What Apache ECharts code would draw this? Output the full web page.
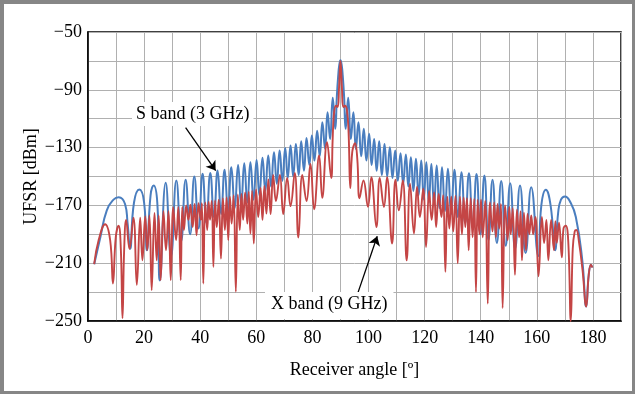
<!DOCTYPE html>
<html>
<head>
<meta charset="utf-8">
<script src="https://cdn.jsdelivr.net/npm/echarts@6/dist/echarts.min.js"></script>
<style>
  html, body { margin: 0; padding: 0; background: #fff; }
  #chart {
    width: 628px; height: 387px; background: #fff;
    border-style: solid; border-color: #868686;
    border-width: 4px 3px 3px 4px;
  }
</style>
</head>
<body>
<div id="chart"></div>
<script>
// axis ticks
const angleTicks = [0, 20, 40, 60, 80, 100, 120, 140, 160, 180]
const levelTicks = [-250, -210, -170, -130, -90, -50]

// S band (3 GHz) : [receiver angle, UFSR dBm] (lobe peaks / nulls)
const sBand = [
  [2.2,-210.7],[4.4,-192],[6.7,-173.4],[9.1,-166],[10.95,-164.3],[13.2,-169],[14.1,-182],
  [15.0,-200],[16.4,-168],[18.3,-159],[20.0,-168],[21.0,-201],[22.3,-163],[23.4,-156.2],[24.7,-168],
  [25.6,-222],[27.7,-154.3],[29.6,-205],[31.5,-152.8],[33.2,-195],[34.8,-152.3],
  [36.4,-190],[37.9,-150],[39.4,-186],[40.85,-148.1],[42.2,-182],[43.6,-147.5],
  [44.9,-178],[46.2,-145.9],[47.45,-176],[48.7,-145.4],[49.9,-174],[51.1,-143.6],
  [52.3,-172],[53.5,-142],[54.6,-170],[55.7,-140.8],[56.8,-168],[57.9,-140.1],
  [59.0,-166],[60.1,-138.5],[61.1,-163],[62.2,-137],[63.2,-160],[64.25,-135.5],
  [65.25,-157],[66.3,-133.2],[67.3,-155],[68.3,-132],[69.3,-153],[70.3,-130.2],
  [71.2,-151],[72.2,-128.6],[73.15,-150],[74.1,-127.5],[75.1,-149],[76.0,-125.6],
  [77.0,-146],[77.9,-123.3],[78.9,-142],[79.8,-121.7],[80.7,-139],[81.7,-118.3],
  [82.6,-136],[83.55,-112.5],[84.5,-131],[85.4,-105.6],[86.3,-124],[87.25,-95.5],
  [88.15,-117],[88.7,-95],[89.2,-80],[89.6,-72.5],[90.0,-69.5],[90.4,-72.5],[90.8,-80],[91.3,-95],
  [91.85,-117],[92.75,-95.5],[93.7,-124],[94.6,-105.6],[95.5,-131],[96.4,-112.5],
  [97.4,-136],[98.3,-117],[99.25,-139],[100.2,-120.5],[101.1,-142],[102.0,-124],
  [102.9,-146],[103.8,-125.6],[104.75,-149],[105.7,-127.5],[106.65,-150],[107.6,-129.8],
  [108.55,-151],[109.5,-132],[110.45,-153],[111.4,-133.9],[112.35,-155],[113.3,-134.8],
  [114.2,-157],[115.1,-136.7],[116.0,-160],[116.9,-137.8],[117.85,-163],[118.8,-139],
  [119.7,-166],[120.6,-140.1],[121.5,-168],[122.4,-141.3],[123.35,-170],[124.3,-142.4],
  [125.25,-172],[126.2,-143.6],[127.25,-174],[128.3,-144.7],[129.45,-176],[130.6,-145.4],
  [131.85,-178],[133.1,-147],[134.45,-182],[135.8,-147.7],[137.15,-186],[138.5,-148.2],
  [139.9,-190],[141.3,-149.3],[142.75,-194],[144.2,-152.3],[145.75,-196],[147.3,-153.2],
  [148.9,-198],[150.5,-154.6],[152.25,-200],[154.0,-156.2],[156.0,-203],[158.0,-157.4],
  [160.5,-205],[161.6,-170],[163.2,-159.2],[164.9,-170],[166.5,-201],[167.6,-175],
  [168.6,-166],[170.0,-163.8],[172.0,-168],[173.9,-178],[176.2,-208],[177.6,-240],
  [178.5,-218],[179.3,-211],[179.8,-213]
]

// X band (9 GHz)
const xBand = [
  [2.2,-210.7],[3.8,-194],[6.1,-183],[7.9,-194],[8.9,-224],[9.9,-192],[10.9,-184],[11.7,-200],
  [12.3,-248],[12.9,-200],[13.6,-180],[14.8,-200],[16.2,-178.5],[17.4,-225],[18.6,-178.5],
  [19.4,-208],[20.4,-177.6],[21.1,-201],[21.9,-177],[22.7,-228.6],[23.7,-175.3],[24.5,-208],
  [25.2,-177],[25.9,-221.7],[26.9,-174],[27.8,-201],[28.7,-174],[29.5,-221.7],[30.4,-171.2],
  [31.4,-194],[32.2,-171],[33.05,-221.7],[33.6,-171],[34.2,-187],[35.0,-170],[35.8,-180],
  [36.5,-169.5],[37.3,-185],[38.0,-169],[38.7,-190.7],[39.4,-168.5],[40.2,-180],[40.6,-168.5],
  [41.1,-224],[41.8,-168],[42.5,-187],[43.0,-167.5],[43.5,-180],[44.1,-167],[44.7,-212.5],
  [45.3,-166.5],[45.9,-185],[46.6,-166],[47.4,-206.8],[48.1,-165],[48.8,-187],[49.4,-164.5],
  [50.0,-194],[50.6,-164],[51.2,-182.6],[51.9,-163],[52.7,-229.8],[53.4,-162.5],[54.1,-187],
  [54.7,-162],[55.3,-180],[56.0,-161],[56.8,-182.6],[57.3,-160.5],[57.9,-189.5],[58.5,-160],
  [59.1,-196.4],[59.9,-159],[60.7,-178],[61.5,-158],[62.2,-180],[62.9,-156.5],[63.6,-175.7],
  [64.3,-152],[65.1,-176],[66.0,-149],[67.0,-167],[68.4,-149],[69.6,-176],[71.0,-151],
  [72.2,-170.5],[73.7,-147.6],[75.0,-192.3],[76.4,-149],[77.9,-167],[79.3,-141.3],
  [80.6,-172.7],[82.4,-135.5],[83.5,-164.8],[85.2,-126.3],
  [86.7,-151],[87.2,-125],[87.7,-106],[88.4,-101],[89.0,-102],[89.5,-88],[90.0,-70],
  [90.5,-88],[91.0,-102],[91.6,-101],[92.3,-104],[92.9,-120],[93.5,-158],[94.2,-133],
  [95.2,-127],[96.0,-138],[96.8,-165],[98.2,-152.8],[99.8,-171],[101.0,-150.5],[102.8,-185],
  [104.0,-151],[105.5,-171],[106.6,-150.5],[108.4,-196.4],[109.6,-152.3],[110.8,-173.4],
  [112.2,-152.8],[113.6,-208],[114.8,-155],[116.2,-189.5],[117.3,-157],[118.3,-178],
  [119.5,-158.5],[120.5,-198.8],[121.6,-160],[122.5,-180],[123.4,-161],[124.1,-185],
  [125.0,-162],[126.0,-178],[126.6,-163],[127.4,-216],[128.1,-164],[128.8,-186],[129.5,-164],
  [130.2,-188],[131.0,-163.5],[131.8,-210],[132.6,-164],[133.3,-190],[133.9,-164.5],
  [134.5,-185],[135.1,-165],[135.7,-201],[136.4,-165],[137.1,-192],[137.7,-165.5],
  [138.3,-230],[138.9,-166],[139.5,-190],[140.1,-166],[140.7,-192],[141.6,-167],[142.5,-238],
  [143.3,-168],[144.2,-188],[144.8,-168],[145.4,-192],[146.0,-169],[146.6,-186],[147.2,-169],
  [147.8,-241],[148.7,-170],[149.6,-194],[150.2,-171],[150.7,-190],[151.4,-172],[152.2,-218],
  [152.9,-173],[153.7,-192],[154.2,-174],[154.7,-208],[155.4,-175],[156.1,-201],[156.7,-176],
  [157.3,-190],[158.0,-177],[158.7,-190],[159.5,-178],[160.6,-219],[161.8,-178],[162.6,-196],
  [163.4,-180],[164.1,-208],[165.1,-180],[166.1,-201],[166.6,-181],[167.1,-196],[167.9,-182],
  [168.9,-206],[169.5,-186],[170.3,-184],[171.2,-195],[172.1,-250],[172.8,-200],[173.5,-188],
  [174.1,-187],[175.0,-195],[176.3,-215],[177.6,-240],[178.5,-218],[179.3,-211],[179.8,-213]
]

// annotation arrows (tail -> head) in data coords
const sArrow = [[34.8, -116.2], [45.5, -145.9]]
const xArrow = [[96.3, -230], [103.1, -191.4]]

const font = 'Liberation Serif, Times New Roman, serif'
const minus = v => String(v).replace('-', '\u2212')

const chart = echarts.init(document.getElementById('chart'), null, { renderer: 'canvas' })

chart.setOption({
  animation: false,
  backgroundColor: '#fff',
  grid: {
    left: 84, top: 28, right: 11, bottom: 70,
    show: true, borderColor: '#000', borderWidth: 1.5
  },
  xAxis: {
    type: 'value', min: 0, max: 190, interval: 10,
    name: 'Receiver angle [\u00ba]', nameLocation: 'middle', nameGap: 40,
    nameTextStyle: { fontFamily: font, fontSize: 18, color: '#000' },
    axisLine: { lineStyle: { color: '#000', width: 1.5 } },
    axisTick: { show: false },
    axisLabel: {
      fontFamily: font, fontSize: 18, color: '#000', margin: 8,
      formatter: v => angleTicks.indexOf(v) >= 0 ? String(v) : ''
    },
    splitLine: { lineStyle: { color: '#b0b0b0', width: 1 } }
  },
  yAxis: {
    type: 'value', min: -250, max: -50, interval: 20,
    name: 'UFSR [dBm]', nameLocation: 'middle', nameGap: 48,
    nameMoveOverlap: false,
    nameTextStyle: { fontFamily: font, fontSize: 18, color: '#000' },
    axisLine: { show: true, lineStyle: { color: '#000', width: 1.5 } },
    axisTick: { show: false },
    axisLabel: {
      fontFamily: font, fontSize: 18, color: '#000', margin: 6,
      formatter: v => levelTicks.indexOf(v) >= 0 ? minus(v) : ''
    },
    splitLine: { lineStyle: { color: '#b0b0b0', width: 1 } }
  },
  series: [
    {
      name: 'S band (3 GHz)',
      type: 'line',
      data: sBand,
      showSymbol: false,
      smooth: 0.5,
      lineStyle: { color: '#4a7ebf', width: 2 },
      markLine: {
        silent: true,
        symbol: ['none', 'arrow'],
        symbolSize: 9,
        label: { show: false },
        lineStyle: { color: '#000', width: 1.3, type: 'solid' },
        data: [[{ coord: sArrow[0] }, { coord: sArrow[1] }]]
      }
    },
    {
      name: 'X band (9 GHz)',
      type: 'line',
      data: xBand,
      showSymbol: false,
      smooth: 0.45,
      lineStyle: { color: '#c44545', width: 1.9 },
      markLine: {
        silent: true,
        symbol: ['none', 'arrow'],
        symbolSize: 9,
        label: { show: false },
        lineStyle: { color: '#000', width: 1.3, type: 'solid' },
        data: [[{ coord: xArrow[0] }, { coord: xArrow[1] }]]
      }
    }
  ],
  graphic: [
    {
      type: 'text', left: 128, top: 98, z: 100,
      style: {
        text: 'S band (3 GHz)', font: '18px ' + font, fill: '#000',
        backgroundColor: '#fff', padding: [3, 4, 3, 4]
      }
    },
    {
      type: 'text', left: 261, top: 288, z: 100,
      style: {
        text: 'X band (9 GHz)', font: '18px ' + font, fill: '#000',
        backgroundColor: '#fff', padding: [3, 6, 6, 6]
      }
    }
  ]
})
</script>
</body>
</html>
